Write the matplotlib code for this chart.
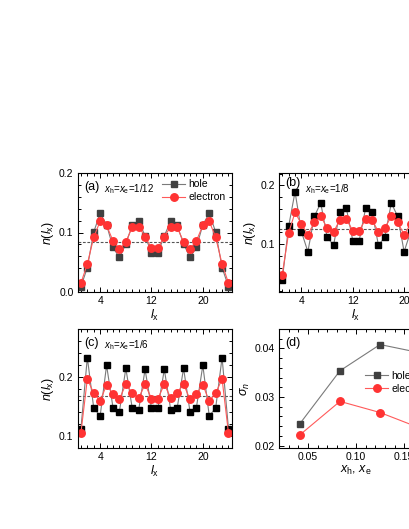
import matplotlib
matplotlib.use('Agg')
import matplotlib.pyplot as plt
from matplotlib.ticker import MultipleLocator, FormatStrFormatter

plt.rcParams['font.family'] = ['Liberation Sans', 'DejaVu Sans']
plt.rcParams['mathtext.fontset'] = 'custom'
plt.rcParams['mathtext.rm'] = 'Liberation Sans'
plt.rcParams['mathtext.it'] = 'Liberation Sans:italic'

# site index
lx = list(range(1, 25))

# (a) x_h = x_e = 1/12
hole_a = [0.009, 0.041, 0.101, 0.132, 0.113, 0.075, 0.058, 0.081, 0.112, 0.120, 0.094, 0.066,
          0.066, 0.094, 0.120, 0.112, 0.081, 0.058, 0.075, 0.113, 0.132, 0.101, 0.041, 0.009]
elec_a = [0.015, 0.047, 0.092, 0.119, 0.112, 0.086, 0.072, 0.084, 0.109, 0.110, 0.093, 0.074,
          0.074, 0.093, 0.110, 0.109, 0.084, 0.072, 0.086, 0.112, 0.119, 0.092, 0.047, 0.015]

# (b) x_h = x_e = 1/8
hole_b = [0.039, 0.130, 0.189, 0.121, 0.087, 0.147, 0.170, 0.112, 0.098, 0.155, 0.161, 0.106,
          0.106, 0.161, 0.155, 0.098, 0.112, 0.170, 0.147, 0.087, 0.121, 0.189, 0.130, 0.039]
elec_b = [0.048, 0.119, 0.154, 0.134, 0.116, 0.137, 0.147, 0.128, 0.121, 0.141, 0.142, 0.123,
          0.123, 0.142, 0.141, 0.121, 0.128, 0.147, 0.137, 0.116, 0.134, 0.154, 0.119, 0.048]

# (c) x_h = x_e = 1/6
hole_c = [0.112, 0.232, 0.147, 0.134, 0.219, 0.148, 0.141, 0.214, 0.147, 0.144, 0.212, 0.147,
          0.147, 0.212, 0.144, 0.147, 0.214, 0.141, 0.148, 0.219, 0.134, 0.147, 0.232, 0.112]
elec_c = [0.105, 0.196, 0.172, 0.159, 0.186, 0.171, 0.162, 0.187, 0.173, 0.164, 0.187, 0.163,
          0.163, 0.187, 0.164, 0.173, 0.187, 0.162, 0.171, 0.186, 0.159, 0.172, 0.196, 0.105]

# (d) fluctuation vs doping
doping = [1/24, 1/12, 1/8, 1/6]
sigma_hole = [0.0245, 0.0354, 0.0408, 0.0391]
sigma_elec = [0.0222, 0.0291, 0.0268, 0.0236]

RED = '#ff3333'
RED_LINE = '#ff5a5a'
GRAY_LINE = '#7a7a7a'

fig = plt.figure(figsize=(4.09, 5.29), dpi=100)

def style_axes(ax):
    ax.tick_params(which='both', direction='in', top=True, right=True, labelsize=7.5, width=0.7)
    ax.tick_params(which='major', length=3.5, pad=3)
    ax.tick_params(which='minor', length=2)
    for s in ax.spines.values():
        s.set_linewidth(0.8)

def panel(rect, hole, elec, hole_col, avg, ylim, label, dop_text, legend=False, label_y=0.93):
    ax = fig.add_axes(rect)
    ax.axhline(avg, color='#555555', lw=0.8, ls=(0, (2.5, 1.5)))
    ax.plot(lx, hole, '-s', color=GRAY_LINE, mfc=hole_col, mec=hole_col, ms=4.6, lw=0.8, label='hole')
    ax.plot(lx, elec, '-o', color=RED_LINE, mfc=RED, mec=RED, ms=5.4, lw=0.8, label='electron')
    ax.set_xlim(0.5, 24.5)
    ax.set_ylim(*ylim)
    ax.set_xticks([4, 12, 20])
    ax.xaxis.set_minor_locator(MultipleLocator(1))
    ax.yaxis.set_major_locator(MultipleLocator(0.1))
    ax.yaxis.set_minor_locator(MultipleLocator(0.02))
    style_axes(ax)
    ax.set_xlabel(r'$l_\mathrm{x}$', fontsize=9, labelpad=1)
    ax.set_ylabel(r'$n(l_\mathrm{x})$', fontsize=9, labelpad=2)
    ax.text(0.04, label_y, label, transform=ax.transAxes, fontsize=9, va='top')
    ax.text(0.17, 0.92, dop_text, transform=ax.transAxes, fontsize=7, va='top')
    if legend:
        ax.legend(loc='upper right', frameon=False, fontsize=7.5, handlelength=2.2,
                  handletextpad=0.3, borderaxespad=0.2, labelspacing=0.3)
    return ax

W, H = 409.0, 529.0
pw, ph = 154 / W, 119 / H
panel([77.7 / W, (H - 292) / H, pw, ph], hole_a, elec_a, '#404040', 1/12, (0, 0.2),
      '(a)', r'$x_\mathrm{h}$=$x_\mathrm{e}$=1/12', legend=True)
panel([279 / W, (H - 292) / H, pw, ph], hole_b, elec_b, 'black', 1/8, (0.0185, 0.221),
      '(b)', r'$x_\mathrm{h}$=$x_\mathrm{e}$=1/8', label_y=0.97)
panel([77.7 / W, (H - 448) / H, pw, ph], hole_c, elec_c, 'black', 1/6, (0.08, 0.28),
      '(c)', r'$x_\mathrm{h}$=$x_\mathrm{e}$=1/6')

# (d)
axd = fig.add_axes([279 / W, (H - 448) / H, pw, ph])
axd.plot(doping, sigma_hole, '-s', color=GRAY_LINE, mfc='#404040', mec='#404040', ms=4.6, lw=0.8, label='hole')
axd.plot(doping, sigma_elec, '-o', color=RED_LINE, mfc=RED, mec=RED, ms=5.4, lw=0.8, label='electron')
axd.set_xlim(0.02, 0.18)
axd.set_ylim(0.0195, 0.044)
axd.xaxis.set_major_locator(MultipleLocator(0.05))
axd.xaxis.set_minor_locator(MultipleLocator(0.01))
axd.yaxis.set_major_locator(MultipleLocator(0.01))
axd.yaxis.set_minor_locator(MultipleLocator(0.002))
axd.xaxis.set_major_formatter(FormatStrFormatter('%.2f'))
axd.yaxis.set_major_formatter(FormatStrFormatter('%.2f'))
style_axes(axd)
axd.set_xlabel(r'$x_\mathrm{h}$, $x_\mathrm{e}$', fontsize=9, labelpad=1)
axd.set_ylabel(r'$\sigma_n$', fontsize=9, labelpad=2)
axd.text(0.04, 0.93, '(d)', transform=axd.transAxes, fontsize=9, va='top')
axd.legend(loc='center left', bbox_to_anchor=(0.5, 0.55), frameon=False, fontsize=7.5,
           handlelength=2.2, handletextpad=0.3, labelspacing=0.3)

fig.savefig('out.png', dpi=100)
